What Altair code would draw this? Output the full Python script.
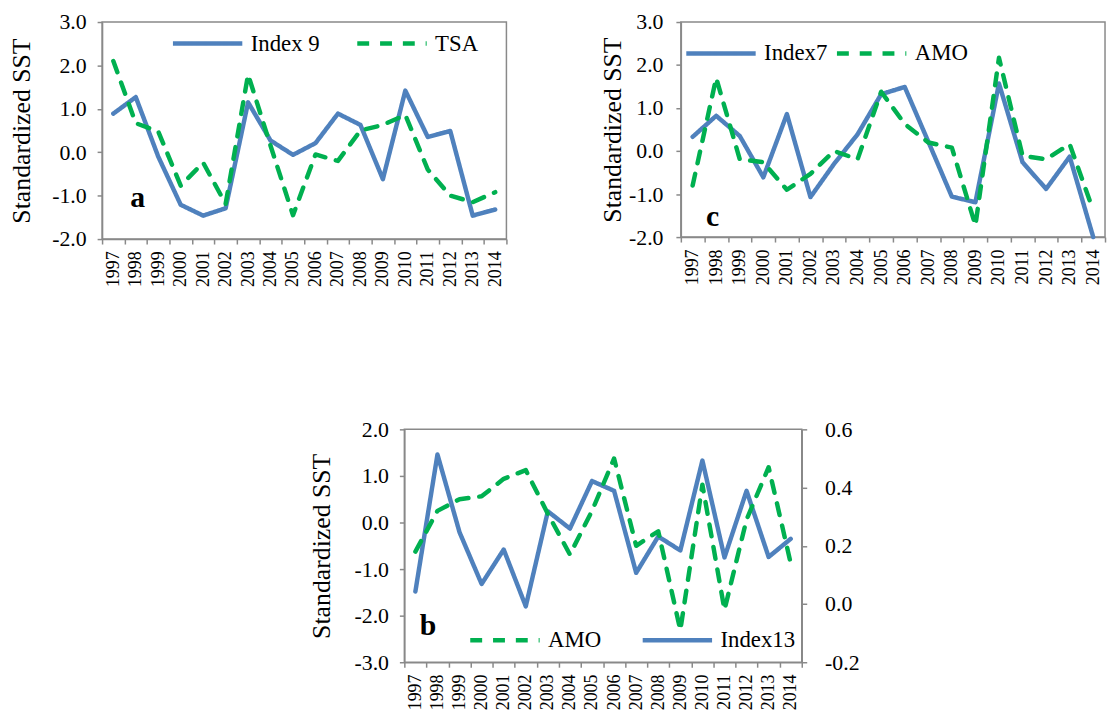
import altair as alt
import pandas as pd

# ---- data -------------------------------------------------------------
years = [str(y) for y in range(1997, 2015)]

# panel a
index9 = [0.89, 1.27, -0.10, -1.21, -1.46, -1.29, 1.15, 0.27, -0.06, 0.21,
          0.89, 0.63, -0.62, 1.42, 0.35, 0.49, -1.46, -1.32]
tsa = [2.10, 0.67, 0.48, -0.77, -0.24, -1.19, 1.79, 0.15, -1.45, -0.05,
       -0.20, 0.50, 0.63, 0.86, -0.40, -1.00, -1.15, -0.92]

# panel c
index7 = [0.33, 0.82, 0.35, -0.61, 0.86, -1.07, -0.30, 0.39, 1.32, 1.49,
          0.22, -1.06, -1.19, 1.57, -0.26, -0.88, -0.13, -2.00]
amo_c = [-0.80, 1.70, -0.19, -0.26, -0.90, -0.53, 0.00, -0.19, 1.38, 0.63,
         0.20, 0.08, -1.73, 2.17, -0.11, -0.19, 0.16, -1.38]

# panel b (AMO on the right-hand axis)
index13 = [-1.48, 1.46, -0.21, -1.32, -0.58, -1.80, 0.24, -0.13, 0.89, 0.68,
           -1.08, -0.30, -0.60, 1.33, -0.75, 0.68, -0.74, -0.35]
amo_b = [0.18, 0.32, 0.36, 0.37, 0.43, 0.46, 0.31, 0.17, 0.32, 0.50,
         0.20, 0.25, -0.09, 0.41, -0.02, 0.29, 0.47, 0.14]

left_ticks_a = [-2, -1, 0, 1, 2, 3]
left_ticks_b = [-3, -2, -1, 0, 1, 2]
right_ticks_b = [-0.2, 0.0, 0.2, 0.4, 0.6]
panel_tags = ["a", "b", "c"]

# ---- style ------------------------------------------------------------
BLUE = "#4F81BD"
GREEN = "#00B050"
GRAY = "#898989"
FONT = "Liberation Serif"
SOLID = [1, 0]
DASH = [12, 11]
Y_TITLE = "Standardized SST"
LABEL_EXPR = "replace(format(datum.value, '.1f'), '\u2212', '-')"


def table(name, values):
    return pd.DataFrame({"year": years, "series": name, "value": values})


def x_enc():
    return alt.X(
        "year:O", title=None, bandPosition=0.5,
        scale=alt.Scale(type="band", paddingInner=0, paddingOuter=0),
        axis=alt.Axis(tickBand="extent", labelAngle=-90, labelFontSize=18,
                      labelPadding=7, tickSize=5),
    )


def legend(x, y, colpad):
    return alt.Legend(
        title=None, orient="none", legendX=x, legendY=y,
        direction="horizontal", symbolType="stroke", symbolSize=4900,
        symbolStrokeWidth=4.5, labelFont=FONT, labelFontSize=23,
        labelColor="black", labelOffset=6, columnPadding=colpad,
        padding=0, labelLimit=300,
    )


def series_line(name, values, y_enc, domain, colors, dashes, leg):
    return alt.Chart(table(name, values)).mark_line(
        strokeWidth=4.5, strokeCap="round", strokeJoin="round"
    ).encode(
        x=x_enc(),
        y=y_enc,
        color=alt.Color("series:N", scale=alt.Scale(domain=domain, range=colors), legend=leg),
        strokeDash=alt.StrokeDash("series:N", scale=alt.Scale(domain=domain, range=dashes), legend=leg),
    )


def tag(text, x, y):
    return alt.Chart(pd.DataFrame({"t": [text]})).mark_text(
        font=FONT, fontSize=30, fontWeight="bold", align="center",
        baseline="alphabetic", color="black",
    ).encode(text="t:N", x=alt.value(x), y=alt.value(y))


def left_y(domain, ticks, label_pad, title_pad):
    return alt.Y(
        "value:Q", title=Y_TITLE,
        scale=alt.Scale(domain=domain, nice=False, zero=False),
        axis=alt.Axis(values=ticks, labelExpr=LABEL_EXPR, labelFontSize=22,
                      labelPadding=label_pad, titlePadding=title_pad,
                      titleFontSize=26, tickSize=5),
    )


# ---- panel a ----------------------------------------------------------
dom_a = ["Index 9", "TSA"]
leg_a = legend(69, -16, 28)
ya = left_y([-2, 3], left_ticks_a, 11, 17)
panel_a = alt.layer(
    series_line("Index 9", index9, ya, dom_a, [BLUE, GREEN], [SOLID, DASH], leg_a),
    series_line("TSA", tsa, ya, dom_a, [BLUE, GREEN], [SOLID, DASH], leg_a),
    tag(panel_tags[0], 36, 187),
).properties(width=408, height=219)

# ---- panel c ----------------------------------------------------------
dom_c = ["Index7", "AMO"]
leg_c = legend(3, -6, 0)
yc = left_y([-2, 3], left_ticks_a, 13, 3)
panel_c = alt.layer(
    series_line("Index7", index7, yc, dom_c, [BLUE, GREEN], [SOLID, DASH], leg_c),
    series_line("AMO", amo_c, yc, dom_c, [BLUE, GREEN], [SOLID, DASH], leg_c),
    tag(panel_tags[2], 32, 206),
).properties(width=428, height=217)

# ---- panel b ----------------------------------------------------------
dom_b = ["AMO", "Index13"]
leg_b = legend(64, 175, 32)
yb_left = left_y([-3, 2], left_ticks_b, 11, 20)
yb_right = alt.Y(
    "value:Q", title=None,
    scale=alt.Scale(domain=[-0.2, 0.6], nice=False, zero=False),
    axis=alt.Axis(orient="right", values=right_ticks_b, labelExpr=LABEL_EXPR,
                  labelFontSize=22, labelPadding=18, tickSize=5),
)
panel_b = alt.layer(
    series_line("Index13", index13, yb_left, dom_b, [GREEN, BLUE], [DASH, SOLID], leg_b),
    series_line("AMO", amo_b, yb_right, dom_b, [GREEN, BLUE], [DASH, SOLID], leg_b),
    tag(panel_tags[1], 24, 208),
).resolve_scale(y="independent").properties(width=401, height=235)

spacer = alt.Chart(pd.DataFrame({"v": [0]})).mark_point(opacity=0).encode(
    x=alt.value(0), y=alt.value(0)
).properties(width=206, height=10, view=alt.ViewBackground(stroke="transparent"))

top_row = alt.hconcat(panel_a, panel_c, spacing=91).resolve_scale(
    color="independent", strokeDash="independent"
).resolve_legend(color="independent", strokeDash="independent")
bottom_row = alt.hconcat(spacer, panel_b, spacing=0).resolve_scale(
    color="independent", strokeDash="independent"
).resolve_legend(color="independent", strokeDash="independent")

chart = alt.vconcat(top_row, bottom_row, spacing=131).resolve_scale(
    color="independent", strokeDash="independent"
).resolve_legend(
    color="independent", strokeDash="independent"
).properties(
    padding={"left": 8, "top": 2, "right": 0, "bottom": 0},
    background="white",
).configure_view(
    stroke=GRAY, strokeWidth=1.5
).configure_axis(
    domainColor=GRAY, tickColor=GRAY, domainWidth=1.5, tickWidth=1.5,
    labelFont=FONT, titleFont=FONT, labelColor="black", titleColor="black",
    titleFontWeight="normal", grid=False,
)

chart.save("out.html", embed_options={"renderer": "svg", "actions": False})
